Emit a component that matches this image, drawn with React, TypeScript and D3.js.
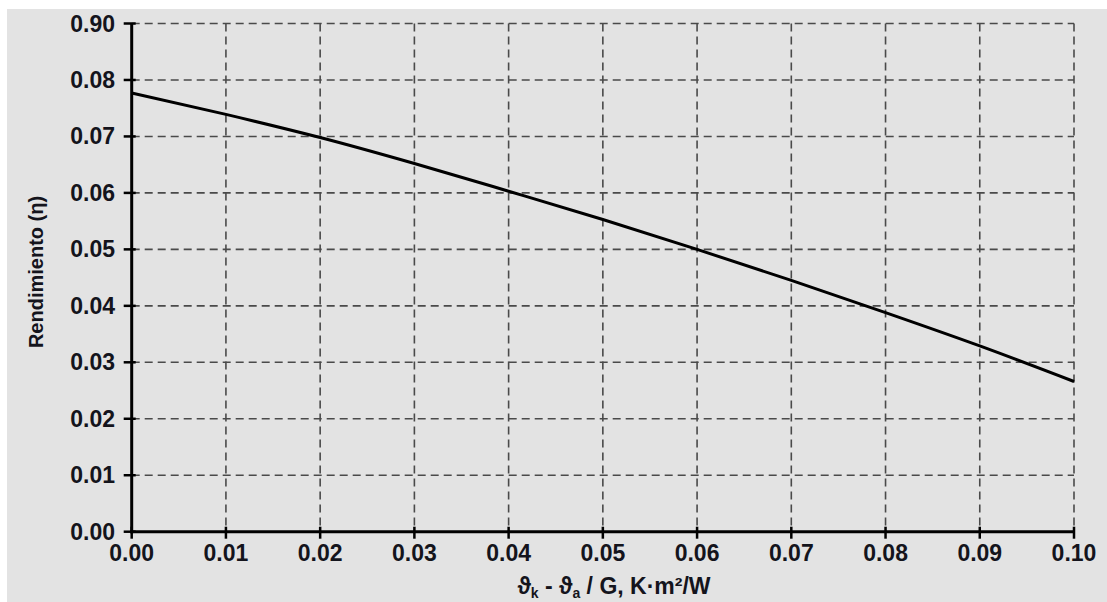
import React from "react";
import * as d3 from "d3";

const xTicks = [0, 0.01, 0.02, 0.03, 0.04, 0.05, 0.06, 0.07, 0.08, 0.09, 0.1];
const xTickLabels = ["0.00", "0.01", "0.02", "0.03", "0.04", "0.05", "0.06", "0.07", "0.08", "0.09", "0.10"];
const yTicks = [0, 0.01, 0.02, 0.03, 0.04, 0.05, 0.06, 0.07, 0.08, 0.09];
const yTickLabels = ["0.00", "0.01", "0.02", "0.03", "0.04", "0.05", "0.06", "0.07", "0.08", "0.90"];
const curveX = [0, 0.01, 0.02, 0.03, 0.04, 0.05, 0.06, 0.07, 0.08, 0.09, 0.1];
const curveY = [0.0777, 0.0739, 0.0698, 0.0652, 0.0603, 0.0553, 0.05, 0.0445, 0.0388, 0.0329, 0.0266];

const W = 1107;
const H = 602;
const left = 131.7;
const right = 1074;
const top = 23.5;
const bottom = 531.7;
const FONT = "'Liberation Sans', Arial, sans-serif";
const TXT = "#14141c";

export default function App() {
  const x = d3.scaleLinear().domain([0, 0.1]).range([left, right]);
  const y = d3.scaleLinear().domain([0, 0.09]).range([bottom, top]);
  const pts: [number, number][] = curveX.map((v, i) => [v, curveY[i]]);
  const line = d3
    .line<[number, number]>()
    .x((d) => x(d[0]))
    .y((d) => y(d[1]))
    .curve(d3.curveMonotoneX);

  return (
    <svg
      width={W}
      height={H}
      style={{ position: "absolute", left: 0, top: 0, display: "block" }}
    >
      <rect x={0} y={0} width={W} height={H} fill="#ffffff" />
      <rect x={7} y={9} width={W - 7} height={H - 9} fill="#e3e3e3" />
      {/* grid */}
      {yTicks.slice(1).map((t) => (
        <line
          key={"gy" + t}
          x1={left}
          x2={right}
          y1={y(t)}
          y2={y(t)}
          stroke="#4a4a4a"
          strokeWidth={1.6}
          strokeDasharray="8,5"
        />
      ))}
      {xTicks.slice(1).map((t) => (
        <line
          key={"gx" + t}
          x1={x(t)}
          x2={x(t)}
          y1={top}
          y2={bottom}
          stroke="#4a4a4a"
          strokeWidth={1.6}
          strokeDasharray="8,5"
        />
      ))}
      {/* axes */}
      <line x1={left} x2={left} y1={top} y2={bottom + 1.5} stroke="#000" strokeWidth={3} />
      <line x1={left - 1.5} x2={right} y1={bottom} y2={bottom} stroke="#000" strokeWidth={3} />
      {yTicks.map((t) => (
        <line key={"ty" + t} x1={left - 8} x2={left + 4} y1={y(t)} y2={y(t)} stroke="#000" strokeWidth={2.5} />
      ))}
      {xTicks.map((t) => (
        <line key={"tx" + t} x1={x(t)} x2={x(t)} y1={bottom - 5} y2={bottom + 7} stroke="#000" strokeWidth={2.5} />
      ))}
      {/* curve */}
      <path d={line(pts) || ""} fill="none" stroke="#000" strokeWidth={3} />
      {/* tick labels */}
      {yTicks.map((t, i) => (
        <text
          key={"ly" + t}
          x={115}
          y={y(t)}
          dy="0.35em"
          textAnchor="end"
          fontFamily={FONT}
          fontWeight="bold"
          fontSize={23}
          fill={TXT}
        >
          {yTickLabels[i]}
        </text>
      ))}
      {xTicks.map((t, i) => (
        <text
          key={"lx" + t}
          x={x(t)}
          y={561}
          textAnchor="middle"
          fontFamily={FONT}
          fontWeight="bold"
          fontSize={23}
          fill={TXT}
        >
          {xTickLabels[i]}
        </text>
      ))}
      {/* axis titles */}
      <text
        x={614}
        y={594}
        textAnchor="middle"
        fontFamily={FONT}
        fontWeight="bold"
        fontSize={23}
        fill={TXT}
      >
        ϑ<tspan fontSize={14} dy={4}>k</tspan>
        <tspan dy={-4}> - ϑ</tspan>
        <tspan fontSize={14} dy={4}>a</tspan>
        <tspan dy={-4}> / G, K·m²/W</tspan>
      </text>
      <text
        transform={`translate(43, 272) rotate(-90)`}
        textAnchor="middle"
        fontFamily={FONT}
        fontWeight="bold"
        fontSize={20}
        fill={TXT}
      >
        Rendimiento (η)
      </text>
    </svg>
  );
}
